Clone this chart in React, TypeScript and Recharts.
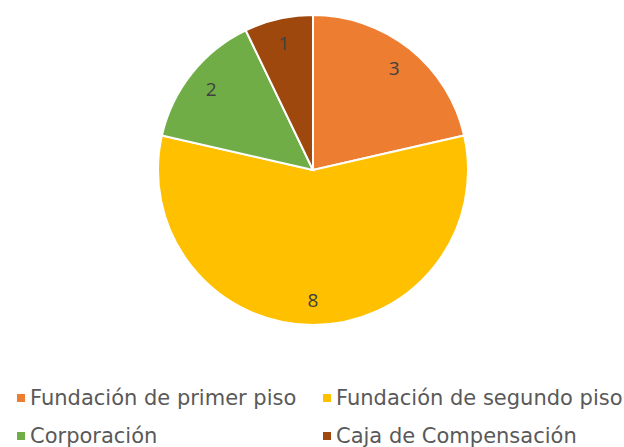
import React from "react";
import { PieChart, Pie, Cell } from "recharts";

const categories = [
  "Fundación de primer piso",
  "Fundación de segundo piso",
  "Corporación",
  "Caja de Compensación",
];
const values = [3, 8, 2, 1];
const colors = ["#ED7D31", "#FFC000", "#70AD47", "#9E480E"];

const data = categories.map((name, i) => ({ name, value: values[i] }));

const RAD = Math.PI / 180;
const renderLabel = (props: any) => {
  const { cx, cy, midAngle, outerRadius, value } = props;
  const r = outerRadius * 0.84;
  const x = cx + r * Math.cos(-midAngle * RAD);
  const y = cy + r * Math.sin(-midAngle * RAD);
  return (
    <text
      x={x}
      y={y}
      fill="#404040"
      fontSize={19}
      fontFamily="'Open Sans', 'DejaVu Sans', sans-serif"
      textAnchor="middle"
      dominantBaseline="central"
    >
      {value}
    </text>
  );
};

const legendCols = [17, 323];
const legendRows = [398, 436];

export default function App() {
  return (
    <div style={{ position: "absolute", left: 0, top: 0, width: 624, height: 447, background: "#fff" }}>
      <PieChart width={624} height={447}>
        <Pie
          data={data}
          dataKey="value"
          nameKey="name"
          cx={308}
          cy={165}
          outerRadius={155}
          startAngle={90}
          endAngle={-270}
          stroke="#ffffff"
          strokeWidth={2}
          label={renderLabel}
          labelLine={false}
          isAnimationActive={false}
        >
          {data.map((d, i) => (
            <Cell key={d.name} fill={colors[i]} />
          ))}
        </Pie>
      </PieChart>
      {data.map((d, i) => {
        const col = i % 2;
        const row = Math.floor(i / 2);
        return (
          <div
            key={d.name}
            style={{
              position: "absolute",
              left: legendCols[col],
              top: legendRows[row] - 14,
              height: 28,
              display: "flex",
              alignItems: "center",
              whiteSpace: "nowrap",
              fontFamily: "'DejaVu Sans', sans-serif",
              fontSize: 21,
              color: "#595959",
            }}
          >
            <span style={{ display: "inline-block", width: 8, height: 8, background: colors[i], marginRight: 5 }} />
            <span>{d.name}</span>
          </div>
        );
      })}
    </div>
  );
}
